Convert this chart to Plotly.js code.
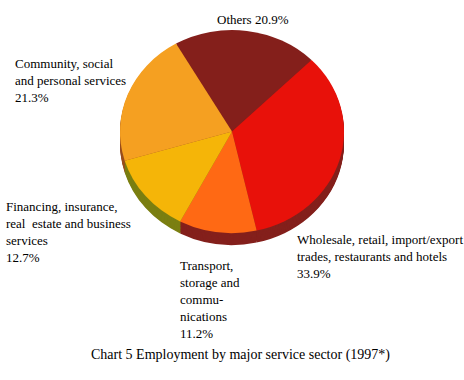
<!DOCTYPE html>
<html>
<head>
<meta charset="utf-8">
<script src="https://cdn.plot.ly/plotly-3.0.1.min.js"></script>
<style>
html,body{margin:0;padding:0;background:#fff;}
#wrap{position:relative;width:464px;height:380px;overflow:hidden;}
#pie,#labels{position:absolute;left:0;top:0;width:464px;height:380px;}
</style>
</head>
<body>
<div id="wrap"><div id="pie"></div><div id="labels"></div></div>
<script>
// Data
const sectors = ["Others", "Wholesale, retail, import/export trades, restaurants and hotels", "Transport, storage and communications", "Financing, insurance, real estate and business services", "Community, social and personal services"];
const shares = [20.9, 33.9, 11.2, 12.7, 21.3];
const labelTexts = [
  "Others 20.9%",
  "Wholesale, retail, import/export<br>trades, restaurants and hotels<br>33.9%",
  "Transport,<br>storage and<br>commu-<br>nications<br>11.2%",
  "Financing, insurance,<br>real  estate and business<br>services<br>12.7%",
  "Community, social<br>and personal services<br>21.3%"
];
const topColors = ["#841F1B", "#E8110A", "#FF6914", "#F5B508", "#F5A021"];
const sideColors = ["#841F1B", "#84201C", "#84201C", "#7B7F12", "#9A4E1E"];
const caption = "Chart 5 Employment by major service sector (1997*)";

const W = 464, H = 380;
const cx = 232, cy = 131.5, rx = 112, ry = 101.5, depth = 12;
const tilt = ry / rx;
const fontFam = "Liberation Serif";

function pieTrace(offset, colors) {
  return {
    type: "pie",
    labels: sectors,
    values: shares,
    sort: false,
    direction: "clockwise",
    rotation: -30,
    textinfo: "none",
    hoverinfo: "none",
    showlegend: false,
    marker: {colors: colors, line: {width: 0}},
    domain: {
      x: [(cx - rx) / W, (cx + rx) / W],
      y: [(H - cy - rx - offset) / H, (H - cy + rx - offset) / H]
    }
  };
}

const traces = [];
const d = depth / tilt;
for (let k = d; k >= 1; k -= 1) traces.push(pieTrace(k, sideColors));
traces.push(pieTrace(0, topColors));

const pieDiv = document.getElementById("pie");
pieDiv.style.transformOrigin = cx + "px " + cy + "px";
pieDiv.style.transform = "scaleY(" + tilt + ")";

Plotly.newPlot("pie", traces, {
  width: W, height: H,
  margin: {l: 0, r: 0, t: 0, b: 0},
  paper_bgcolor: "#fff"
}, {staticPlot: true, displayModeBar: false});

// label anchor positions (pixels)
const labelPos = [
  {x: 253, y: 19, xa: "center", ya: "middle"},
  {x: 295, y: 230, xa: "left", ya: "top"},
  {x: 177.5, y: 256, xa: "left", ya: "top"},
  {x: 4, y: 197, xa: "left", ya: "top"},
  {x: 12.5, y: 54.5, xa: "left", ya: "top"}
];

const annotations = labelTexts.map((t, i) => ({
  text: t, xref: "paper", yref: "paper",
  x: labelPos[i].x / W, y: 1 - labelPos[i].y / H,
  xanchor: labelPos[i].xa, yanchor: labelPos[i].ya,
  align: "left", showarrow: false,
  font: {family: fontFam, size: 13, color: "#000"}
}));
annotations.push({
  text: caption, xref: "paper", yref: "paper",
  x: 240.5 / W, y: 1 - 355 / H, xanchor: "center", yanchor: "middle",
  showarrow: false, font: {family: fontFam, size: 14, color: "#000"}
});

Plotly.newPlot("labels", [], {
  width: W, height: H,
  margin: {l: 0, r: 0, t: 0, b: 0},
  paper_bgcolor: "rgba(0,0,0,0)",
  plot_bgcolor: "rgba(0,0,0,0)",
  xaxis: {visible: false}, yaxis: {visible: false},
  annotations: annotations
}, {staticPlot: true, displayModeBar: false});
</script>
</body>
</html>
